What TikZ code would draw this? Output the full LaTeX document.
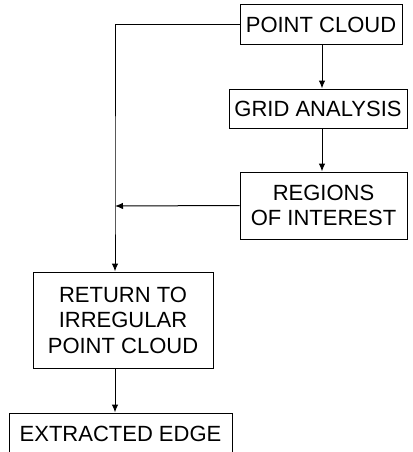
\documentclass[tikz,border=0pt]{standalone}
\usepackage{fontspec}
\setmainfont{Liberation Sans}
\usetikzlibrary{arrows.meta}

\begin{document}
\begin{tikzpicture}[x=1pt,y=-1pt,line width=1pt,
    box/.style={draw, align=center, inner sep=0pt,
      font=\fontsize{22}{25.5}\selectfont},
    flow/.style={-{Latex[length=8pt,width=6.5pt]}}]
     \useasboundingbox (0,0) rectangle (412,452);

     % boxes
      \node[box, minimum width=162, minimum height=40] (pc) at (321,25) {POINT CLOUD};
      \node[box, minimum width=178, minimum height=39] (grid) at (318,108.5) {GRID ANALYSIS};
      \node[box, minimum width=167, minimum height=67] (roi) at (323.5,205.5) {REGIONS\\OF INTEREST};
      \node[box, minimum width=180, minimum height=96] (ret) at (123,320) {RETURN TO\\IRREGULAR\\POINT CLOUD};
      \node[box, minimum width=223, minimum height=42] (edge) at (120.5,434) {EXTRACTED EDGE};

      % left trunk
      \coordinate (join) at (115,206);

      % arrows
      \draw [flow] (pc.south -| 322,0) -- (grid.north -| 322,0);
      \draw [flow] (grid.south -| 322,0) -- (roi.north -| 322,0);
      \draw [flow] (roi.west) -- (join);
      \draw [flow] (pc.west) -| (join) -- (join |- ret.north);
      \draw [flow] (ret.south -| join) -- (edge.north -| join);

    \end{tikzpicture}
\end{document}
